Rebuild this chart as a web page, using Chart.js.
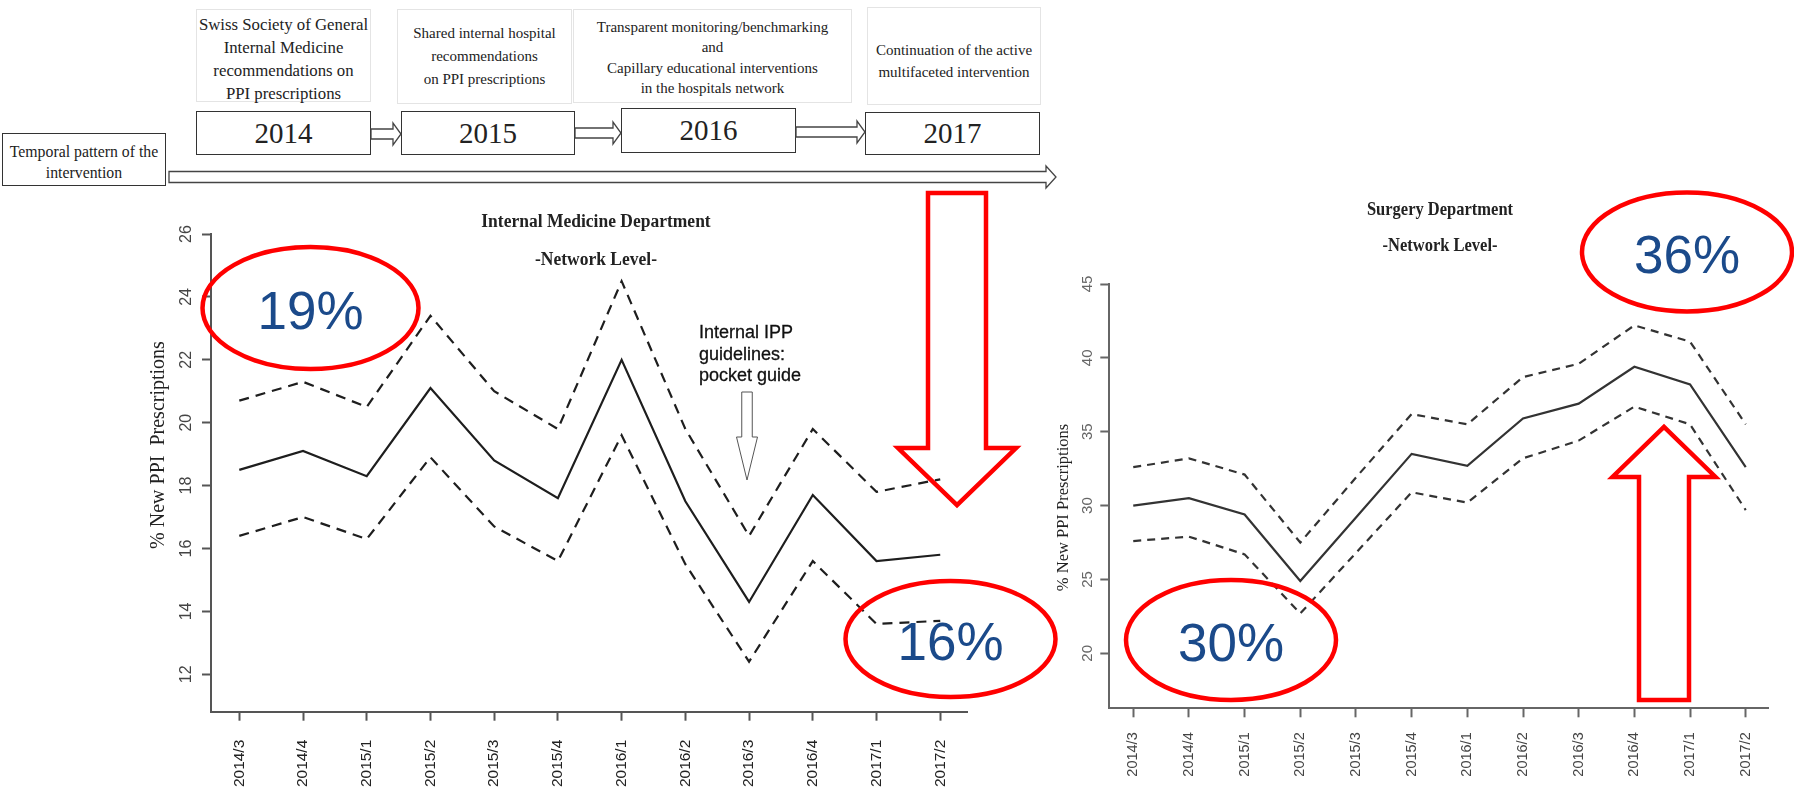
<!DOCTYPE html>
<html>
<head>
<meta charset="utf-8">
<script src="https://cdn.jsdelivr.net/npm/chart.js@4.4.1/dist/chart.umd.min.js"></script>
<style>
  html, body { margin: 0; padding: 0; background: #fff; }
  body { width: 1794px; height: 790px; position: relative; overflow: hidden;
         font-family: "Liberation Serif", "Times New Roman", serif; color: #222; }
  .box { position: absolute; box-sizing: border-box; display: flex; align-items: center;
         justify-content: center; text-align: center; }
  .note { border: 1px solid #e4e4e4; font-size: 15px; line-height: 22px; }
  .year { border: 1.5px solid #333; font-size: 29px; background: #fff; }
  .chart { position: absolute; }
  svg.overlay { position: absolute; left: 0; top: 0; pointer-events: none; }
</style>
</head>
<body>

<!-- timeline of the intervention -->
<div class="box note" style="left:196px;top:9px;width:175px;height:93px;padding-top:6px;font-size:16.8px;line-height:23px;white-space:nowrap;">Swiss Society of General<br>Internal Medicine<br>recommendations on<br>PPI prescriptions</div>
<div class="box note" style="left:397px;top:9px;width:175px;height:95px;line-height:23px;">Shared internal hospital<br>recommendations<br>on PPI prescriptions</div>
<div class="box note" style="left:573px;top:9px;width:279px;height:94px;line-height:20.5px;padding-top:3px;">Transparent monitoring/benchmarking<br>and<br>Capillary educational interventions<br>in the hospitals network</div>
<div class="box note" style="left:867px;top:7px;width:174px;height:98px;padding-top:10px;">Continuation of the active<br>multifaceted intervention</div>

<div class="box year" style="left:196px;top:111px;width:175px;height:44px;">2014</div>
<div class="box year" style="left:401px;top:111px;width:174px;height:44px;">2015</div>
<div class="box year" style="left:621px;top:108px;width:175px;height:45px;">2016</div>
<div class="box year" style="left:865px;top:112px;width:175px;height:43px;">2017</div>
<div class="box year" style="left:2px;top:133px;width:164px;height:53px;font-size:15.8px;line-height:21.5px;padding-top:5px;white-space:nowrap;">Temporal pattern of the<br>intervention</div>

<canvas id="medChart" class="chart" width="900" height="600" style="left:100px;top:190px;"></canvas>
<canvas id="surgChart" class="chart" width="774" height="600" style="left:1020px;top:190px;"></canvas>

<svg class="overlay" id="overlay" width="1794" height="790" xmlns="http://www.w3.org/2000/svg"></svg>

<script>
// Quarters on the x axis
const periods = ['2014/3', '2014/4', '2015/1', '2015/2', '2015/3', '2015/4',
                 '2016/1', '2016/2', '2016/3', '2016/4', '2017/1', '2017/2'];

// Internal Medicine Department, % new PPI prescriptions
const medMean  = [18.5, 19.1, 18.3, 21.1, 18.8, 17.6, 22.0, 17.5, 14.3, 17.7, 15.6, 15.8];
const medUpper = [20.7, 21.3, 20.5, 23.4, 21.0, 19.8, 24.5, 19.8, 16.4, 19.8, 17.8, 18.2];
const medLower = [16.4, 17.0, 16.3, 18.9, 16.7, 15.6, 19.6, 15.5, 12.4, 15.6, 13.6, 13.7];
const medTicks = [12, 14, 16, 18, 20, 22, 24, 26];

// Surgery Department, % new PPI prescriptions
const surgMean  = [30.0, 30.5, 29.4, 24.9, 29.2, 33.5, 32.7, 35.9, 36.9, 39.4, 38.2, 32.6];
const surgUpper = [32.6, 33.2, 32.1, 27.5, 31.9, 36.2, 35.5, 38.7, 39.6, 42.2, 41.1, 35.5];
const surgLower = [27.6, 27.9, 26.7, 22.7, 26.8, 30.9, 30.2, 33.2, 34.4, 36.7, 35.5, 29.7];
const surgTicks = [20, 25, 30, 35, 40, 45];

const toPoints = vals => vals.map((v, i) => ({ x: i, y: v }));

// rotated y tick labels, y title and the two-line title (R style)
const axisText = {
    id: 'axisText',
    afterDraw(chart, args, o) {
        const { ctx, chartArea, scales: { y } } = chart;
        ctx.save();
        ctx.textAlign = 'center';
        ctx.textBaseline = 'middle';

        ctx.fillStyle = o.tickColor;
        ctx.font = o.tickFont;
        y.ticks.forEach(t => {
            ctx.save();
            ctx.translate(chartArea.left - o.tickGap, y.getPixelForValue(t.value));
            ctx.rotate(-Math.PI / 2);
            ctx.fillText(String(t.value), 0, 0);
            ctx.restore();
        });

        ctx.fillStyle = '#222';
        ctx.font = o.yTitleFont;
        ctx.save();
        ctx.translate(chartArea.left - o.yTitleGap, o.yTitleY);
        ctx.rotate(-Math.PI / 2);
        ctx.fillText(o.yTitle, 0, 0);
        ctx.restore();

        ctx.font = o.titleFont;
        o.title.forEach((line, i) => {
            ctx.save();
            ctx.translate(o.titleX, o.titleY[i]);
            ctx.scale(1, 1.12);
            ctx.fillText(line, 0, 0);
            ctx.restore();
        });
        ctx.restore();
    }
};

function makeChart(id, c) {
    const line = (vals, dash, width, color) => ({
        data: toPoints(vals),
        borderColor: color,
        borderWidth: width,
        borderDash: dash,
        pointRadius: 0,
        tension: 0,
        fill: false
    });

    return new Chart(document.getElementById(id), {
        type: 'line',
        data: {
            datasets: [
                line(c.upper, c.dash, c.lineW, c.lineColor),
                line(c.lower, c.dash, c.lineW, c.lineColor),
                line(c.mean, [], c.lineW, c.lineColor)
            ]
        },
        plugins: [axisText],
        options: {
            responsive: false,
            animation: false,
            layout: { padding: c.padding },
            plugins: {
                legend: { display: false },
                tooltip: { enabled: false },
                axisText: c.text
            },
            scales: {
                x: {
                    type: 'linear',
                    min: c.xMin,
                    max: c.xMax,
                    afterBuildTicks: s => { s.ticks = periods.map((_, i) => ({ value: i })); },
                    afterFit: s => { s.height = c.xAxisH; s.paddingLeft = 0; s.paddingRight = 0; },
                    ticks: {
                        autoSkip: false,
                        minRotation: 90,
                        maxRotation: 90,
                        padding: c.xPad,
                        color: c.tickColor,
                        font: { family: 'Liberation Sans', size: c.xFont },
                        callback: v => periods[v]
                    },
                    grid: { drawOnChartArea: false, tickLength: 9, tickWidth: 2, tickColor: c.axisColor },
                    border: { display: true, color: c.axisColor, width: 2 }
                },
                y: {
                    min: c.yMin,
                    max: c.yMax,
                    afterBuildTicks: s => { s.ticks = c.ticks.map(v => ({ value: v })); },
                    afterFit: s => { s.width = c.yAxisW; s.paddingTop = 0; s.paddingBottom = 0; },
                    ticks: { display: false },
                    grid: { drawOnChartArea: false, tickLength: 9, tickWidth: 2, tickColor: c.axisColor },
                    border: { display: true, color: c.axisColor, width: 2 }
                }
            }
        }
    });
}

makeChart('medChart', {
    mean: medMean, upper: medUpper, lower: medLower, ticks: medTicks,
    yMin: 10.81, yMax: 26, xMin: -0.444, xMax: 11.42,
    padding: { left: 0, top: 44, right: 33, bottom: 0 },
    yAxisW: 111, xAxisH: 78.3, xPad: 19, xFont: 15.5,
    tickColor: '#222', axisColor: '#555',
    dash: [10, 7], lineW: 2.2, lineColor: '#1e1e1e',
    text: {
        tickColor: '#444', tickFont: '16px "Liberation Sans"', tickGap: 24,
        yTitle: '% New PPI  Prescriptions', yTitleFont: '20px "Liberation Serif"',
        yTitleGap: 52, yTitleY: 255,
        title: ['Internal Medicine Department', '-Network Level-'],
        titleFont: 'bold 17.5px "Liberation Serif"', titleX: 496, titleY: [31.5, 69.5]
    }
});

makeChart('surgChart', {
    mean: surgMean, upper: surgUpper, lower: surgLower, ticks: surgTicks,
    yMin: 16.28, yMax: 45, xMin: -0.43, xMax: 11.4,
    padding: { left: 0, top: 94, right: 26, bottom: 0 },
    yAxisW: 89.3, xAxisH: 81.7, xPad: 15, xFont: 14.5,
    tickColor: '#444', axisColor: '#666',
    dash: [8, 6], lineW: 2.2, lineColor: '#333',
    text: {
        tickColor: '#666', tickFont: '15px "Liberation Sans"', tickGap: 21,
        yTitle: '% New PPI Prescriptions', yTitleFont: '16.5px "Liberation Serif"',
        yTitleGap: 46, yTitleY: 317.5,
        title: ['Surgery Department', '-Network Level-'],
        titleFont: 'bold 16.5px "Liberation Serif"', titleX: 420, titleY: [20.7, 56.7]
    }
});

// annotation layer: timeline arrows, pocket-guide arrow, red highlights
const svg = document.getElementById('overlay');
const NS = 'http://www.w3.org/2000/svg';
function add(tag, attrs, text) {
    const el = document.createElementNS(NS, tag);
    for (const k in attrs) el.setAttribute(k, attrs[k]);
    if (text) el.textContent = text;
    svg.appendChild(el);
    return el;
}
// horizontal outlined block arrow
function hArrow(x1, x2, yc, shaftH, headH, headL) {
    const s = shaftH / 2, h = headH / 2, xb = x2 - headL;
    return [[x1, yc - s], [xb, yc - s], [xb, yc - h], [x2, yc], [xb, yc + h], [xb, yc + s], [x1, yc + s]]
        .map(p => p.join(',')).join(' ');
}
// vertical block arrow: tip at ty, shaft end at sy
function vArrow(xc, sy, ty, shaftW, headW, headBase) {
    const s = shaftW / 2, h = headW / 2;
    return [[xc - s, sy], [xc - s, headBase], [xc - h, headBase], [xc, ty], [xc + h, headBase], [xc + s, headBase], [xc + s, sy]]
        .map(p => p.join(',')).join(' ');
}

const grey = { fill: '#fff', stroke: '#444', 'stroke-width': 1.3 };
add('polygon', { points: hArrow(371, 401, 134, 10, 22, 8), ...grey });
add('polygon', { points: hArrow(575, 621, 133, 10, 22, 8), ...grey });
add('polygon', { points: hArrow(796, 865, 132, 10, 22, 8), ...grey });
add('polygon', { points: hArrow(169, 1056, 177, 11, 22, 10), ...grey });

// pocket guide arrow + label
add('polygon', { points: vArrow(747, 392, 480, 10.5, 21, 437), fill: '#fff', stroke: '#555', 'stroke-width': 1 });
['Internal IPP', 'guidelines:', 'pocket guide'].forEach((t, i) => {
    add('text', { x: 699, y: 332 + i * 21.7, 'font-family': 'Liberation Sans', 'font-size': 18,
                  fill: '#111', stroke: '#111', 'stroke-width': 0.3, 'dominant-baseline': 'central' }, t);
});

const red = { fill: 'none', stroke: '#f00', 'stroke-width': 4.5 };
add('polygon', { points: vArrow(957, 193, 505, 58, 118, 448), ...red });
add('polygon', { points: vArrow(1664, 700, 427, 50, 103, 477), ...red });

[[310.5, 308, 108, 61, '19%'], [950.5, 639, 105, 58, '16%'],
 [1231, 640, 105, 60, '30%'], [1687, 252, 105, 59.5, '36%']].forEach(([cx, cy, rx, ry, t]) => {
    add('ellipse', { cx, cy, rx, ry, ...red });
    add('text', { x: cx, y: cy + 2, 'text-anchor': 'middle', 'dominant-baseline': 'central',
                  'font-family': 'Liberation Sans', 'font-size': 53, fill: '#1b4a8a' }, t);
});
</script>
</body>
</html>
